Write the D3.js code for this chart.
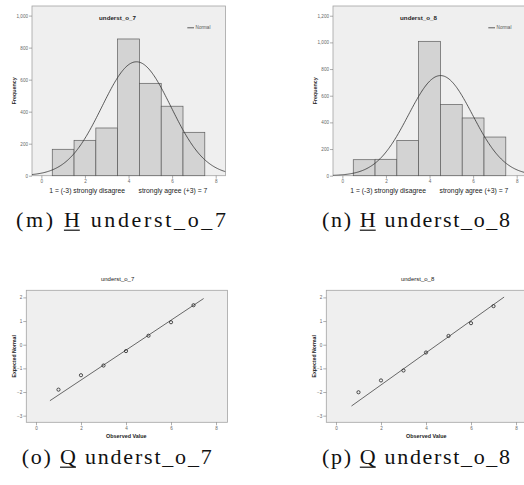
<!DOCTYPE html>
<html><head><meta charset="utf-8">
<script src="https://cdn.jsdelivr.net/npm/d3@7"></script>
<style>html,body{margin:0;padding:0;background:#fff}svg{display:block}</style>
</head><body>
<svg id="c" width="524" height="485"></svg>
<script>
// Response values 1..7 and the frequency of each
const scaleValues = [1, 2, 3, 4, 5, 6, 7];
const countsO7 = [165, 221, 298, 854, 577, 434, 271];
const countsO8 = [120, 123, 265, 1008, 533, 433, 290];
const freqTicksO7 = [0, 200, 400, 600, 800, 1000];
const freqTicksO8 = [0, 200, 400, 600, 800, 1000, 1200];
const valueTicks = [0, 2, 4, 6, 8];
const normalTicks = [-3, -2, -1, 0, 1, 2];
// Expected normal scores for each observed value
const expectedO7 = [-1.90, -1.29, -0.88, -0.27, 0.38, 0.95, 1.67];
const expectedO8 = [-2.01, -1.51, -1.09, -0.33, 0.37, 0.91, 1.63];
// Observed-value extent of the reference line
const refLineO7 = [0.62, 7.45];
const refLineO8 = [0.69, 7.47];
const varNames = ["underst_o_7", "underst_o_8"];
const axisLowLabel = "1 = (-3) strongly disagree";
const axisHighLabel = "strongly agree (+3) = 7";

const svg = d3.select("#c");
svg.append("rect").attr("width", 524).attr("height", 485).attr("fill", "#fff");

const SANS = "'Liberation Sans', Arial, sans-serif";
const SERIF = "'Liberation Serif', 'DejaVu Serif', serif";

function moments(counts) {
  const n = d3.sum(counts);
  const mean = d3.sum(counts, (c, i) => c * scaleValues[i]) / n;
  const v = d3.sum(counts, (c, i) => c * (scaleValues[i] - mean) ** 2) / (n - 1);
  return { n, mean, sd: Math.sqrt(v) };
}

function styleTicks(g) {
  g.select(".domain").remove();
  g.selectAll(".tick line").attr("stroke", "#777").attr("stroke-width", 0.6);
  g.selectAll(".tick text").attr("fill", "#666").attr("font-size", 4.6)
    .attr("font-family", SANS);
}

let clipId = 0;
function histogram(left, counts, yMax, yTicks, name) {
  const top = 6, bottom = 175.7, w = 193.5;
  const x = d3.scaleLinear().domain([-0.43, 8.45]).range([left, left + w]);
  const y = d3.scaleLinear().domain([0, yMax]).range([bottom, top]);
  const g = svg.append("g");
  const cid = "clip" + (clipId++);
  g.append("clipPath").attr("id", cid).append("rect")
    .attr("x", left).attr("y", top).attr("width", w).attr("height", bottom - top);

  g.append("rect").attr("x", left).attr("y", top).attr("width", w).attr("height", bottom - top)
    .attr("fill", "#efefef").attr("stroke", "#a3a3a3").attr("stroke-width", 0.8);

  g.append("g").selectAll("rect").data(counts).join("rect")
    .attr("x", (d, i) => x(scaleValues[i] - 0.5))
    .attr("width", (d, i) => x(scaleValues[i] + 0.5) - x(scaleValues[i] - 0.5))
    .attr("y", d => y(d)).attr("height", d => y(0) - y(d))
    .attr("fill", "#d3d3d3").attr("stroke", "#5c5c5c").attr("stroke-width", 0.7);

  const m = moments(counts);
  const pts = d3.range(-0.43, 8.46, 0.04).map(v => [v,
    m.n * 1 / (m.sd * Math.sqrt(2 * Math.PI)) * Math.exp(-0.5 * ((v - m.mean) / m.sd) ** 2)]);
  g.append("path").attr("clip-path", `url(#${cid})`)
    .attr("d", d3.line().x(d => x(d[0])).y(d => y(d[1]))(pts))
    .attr("fill", "none").attr("stroke", "#333").attr("stroke-width", 0.8);

  g.append("g").attr("transform", `translate(${left},0)`)
    .call(d3.axisLeft(y).tickValues(yTicks).tickSize(3).tickPadding(1).tickFormat(d3.format(",")))
    .call(styleTicks);
  g.append("g").attr("transform", `translate(0,${bottom})`)
    .call(d3.axisBottom(x).tickValues(valueTicks).tickSize(3).tickPadding(1.5))
    .call(styleTicks);

  g.append("text").attr("x", left + 85.5).attr("y", 19.5).attr("text-anchor", "middle")
    .attr("font-family", SANS).attr("font-weight", "bold").attr("font-size", 6.2)
    .attr("fill", "#222").text(name);

  g.append("line").attr("x1", left + 155.3).attr("x2", left + 162).attr("y1", 27.8).attr("y2", 27.8)
    .attr("stroke", "#333").attr("stroke-width", 0.8);
  g.append("text").attr("x", left + 163.6).attr("y", 29.4).attr("font-family", SANS)
    .attr("font-size", 4.6).attr("fill", "#555").text("Normal");

  g.append("text").attr("transform", `translate(${left - 16.2},90.8) rotate(-90)`)
    .attr("text-anchor", "middle").attr("font-family", SANS).attr("font-weight", "bold")
    .attr("font-size", 5.3).attr("fill", "#222").text("Frequency");

  g.append("text").attr("x", left + 17.3).attr("y", 193.2).attr("font-family", SANS)
    .attr("font-size", 6.8).attr("fill", "#222").text(axisLowLabel);
  g.append("text").attr("x", left + 175.3).attr("y", 193.2).attr("text-anchor", "end")
    .attr("font-family", SANS).attr("font-size", 6.8).attr("fill", "#222").text(axisHighLabel);
}

function qqPlot(left, expected, refLine, counts, name) {
  const top = 290.3, bottom = 422.3, w = 201.2;
  const x = d3.scaleLinear().domain([-0.43, 8.51]).range([left, left + w]);
  const y = d3.scaleLinear().domain([-3.28, 2.30]).range([bottom, top]);
  const g = svg.append("g");
  g.append("rect").attr("x", left).attr("y", top).attr("width", w).attr("height", bottom - top)
    .attr("fill", "#efefef").attr("stroke", "#a3a3a3").attr("stroke-width", 0.8);

  const m = moments(counts);
  g.append("line")
    .attr("x1", x(refLine[0])).attr("y1", y((refLine[0] - m.mean) / m.sd))
    .attr("x2", x(refLine[1])).attr("y2", y((refLine[1] - m.mean) / m.sd))
    .attr("stroke", "#444").attr("stroke-width", 0.8);

  g.append("g").selectAll("circle").data(expected).join("circle")
    .attr("cx", (d, i) => x(scaleValues[i])).attr("cy", d => y(d)).attr("r", 1.6)
    .attr("fill", "none").attr("stroke", "#222").attr("stroke-width", 0.8);

  g.append("g").attr("transform", `translate(${left},0)`)
    .call(d3.axisLeft(y).tickValues(normalTicks).tickSize(3).tickPadding(1).tickFormat(d3.format("d")))
    .call(styleTicks);
  g.append("g").attr("transform", `translate(0,${bottom})`)
    .call(d3.axisBottom(x).tickValues(valueTicks).tickSize(3).tickPadding(1.5))
    .call(styleTicks);

  g.append("text").attr("x", left + 91.3).attr("y", 281.2).attr("text-anchor", "middle")
    .attr("font-family", SANS).attr("font-size", 6).attr("fill", "#222").text(name);
  g.append("text").attr("transform", `translate(${left - 10.5},356.3) rotate(-90)`)
    .attr("text-anchor", "middle").attr("font-family", SANS).attr("font-weight", "bold")
    .attr("font-size", 5.2).attr("fill", "#222").text("Expected Normal");
  g.append("text").attr("x", left + 100).attr("y", 438).attr("text-anchor", "middle")
    .attr("font-family", SANS).attr("font-weight", "bold").attr("font-size", 5.4)
    .attr("fill", "#222").text("Observed Value");
}

// Sub-figure caption: "(tag) <underlined mark> name", fitted to the given span
function caption(x0, x1, baseline, tag, mark, name) {
  const str = tag + " " + mark + " " + name;
  const t = svg.append("text").attr("x", x0).attr("y", baseline)
    .attr("font-family", SERIF).attr("font-size", 22).attr("fill", "#111")
    .attr("textLength", x1 - x0).attr("lengthAdjust", "spacing")
    .text(str);
  const idx = tag.length + 1;
  const ext = t.node().getExtentOfChar(idx);
  svg.append("line").attr("x1", ext.x).attr("x2", ext.x + ext.width)
    .attr("y1", baseline + 3.2).attr("y2", baseline + 3.2)
    .attr("stroke", "#111").attr("stroke-width", 1.2);
}

histogram(32, countsO7, 1060, freqTicksO7, varNames[0]);
histogram(333, countsO8, 1273, freqTicksO8, varNames[1]);
qqPlot(26.3, expectedO7, refLineO7, countsO7, varNames[0]);
qqPlot(326.3, expectedO8, refLineO8, countsO8, varNames[1]);

caption(16, 226, 227, "(m)", "H", varNames[0]);
caption(322, 510, 227, "(n)", "H", varNames[1]);
caption(21.7, 211.7, 464, "(o)", "Q", varNames[0]);
caption(322, 510, 464, "(p)", "Q", varNames[1]);
</script>
</body></html>
